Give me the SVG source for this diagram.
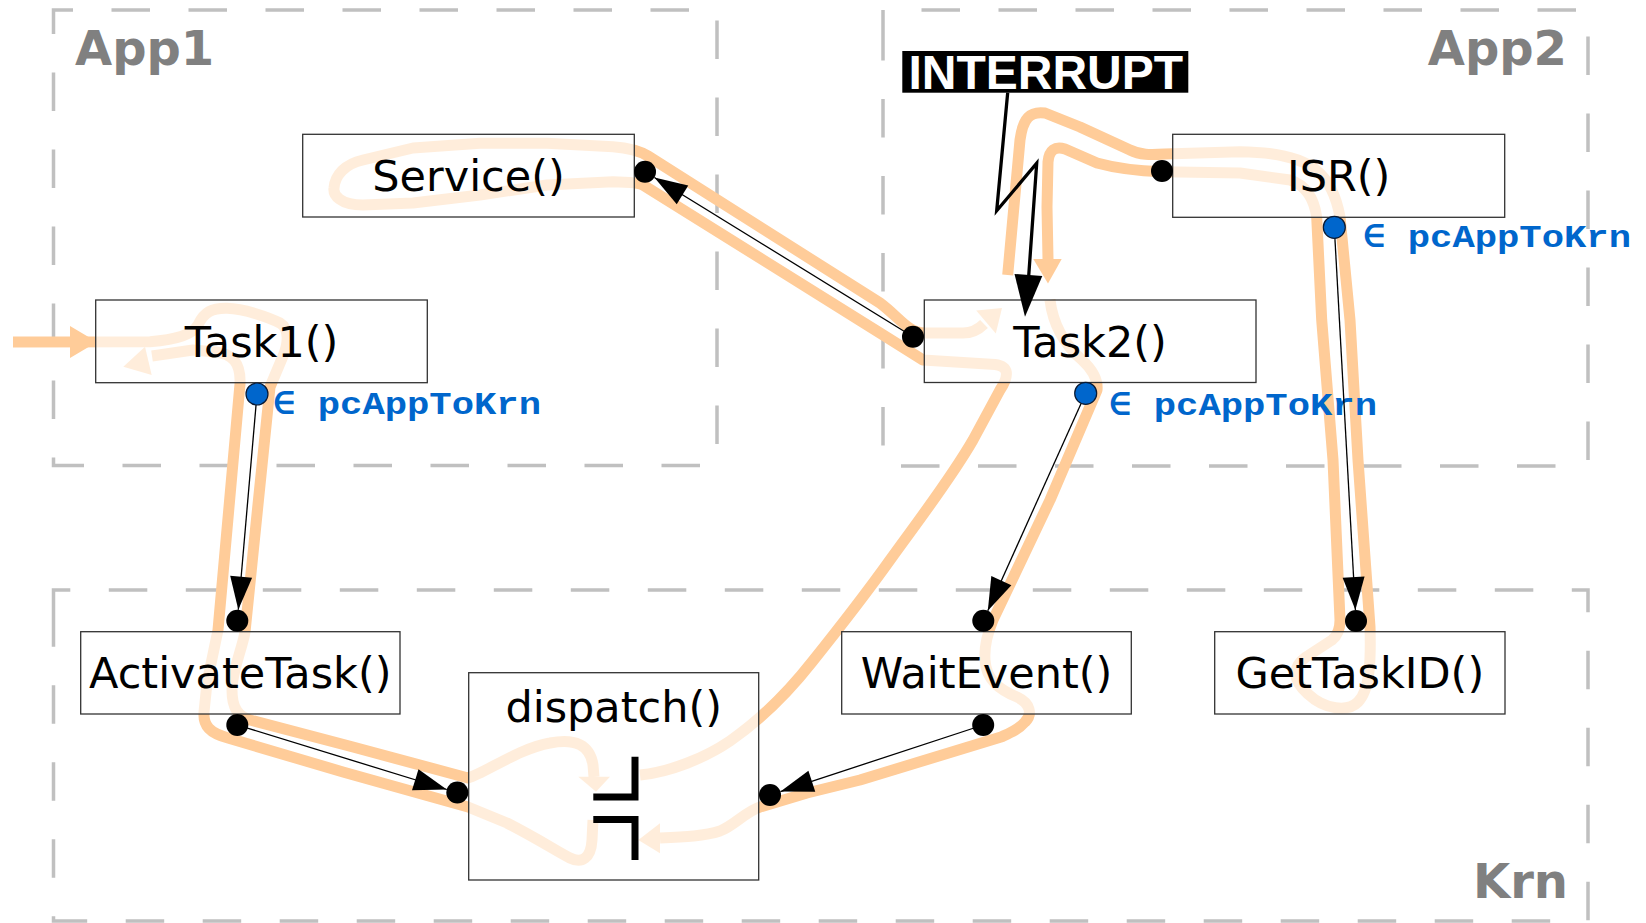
<svg xmlns="http://www.w3.org/2000/svg" width="1646" height="923" viewBox="0 0 1646 923">
<defs>
<style>
.region{fill:none;stroke:#c0c0c0;stroke-width:3.5;stroke-dasharray:38.5 38.5}
.rlabel{font-family:"DejaVu Sans",sans-serif;font-weight:bold;font-size:48px;fill:#808080}
.flow{fill:none;stroke:#ffcc99;stroke-width:11;stroke-linejoin:round;stroke-linecap:butt}
.fhead{fill:#ffcc99}
.box{fill:#ffffff;fill-opacity:0.65;stroke:#333333;stroke-width:1.3}
.lbl{font-family:"DejaVu Sans",sans-serif;font-size:43px;fill:#000000;text-anchor:middle}
.dot{fill:#000000}
.bdot{fill:#0066cc;stroke:#0a1a33;stroke-width:1.2}
.conn{fill:none;stroke:#000000;stroke-width:1.3}
.tag{font-family:"Liberation Mono","DejaVu Sans Mono",monospace;font-weight:bold;font-size:31px;fill:#0066cc}
.sym{fill:none;stroke:#000000;stroke-width:7;stroke-linejoin:miter;stroke-linecap:butt}
</style>
<marker id="ah" markerUnits="userSpaceOnUse" viewBox="-34 -12 35 24" markerWidth="35" markerHeight="24" refX="0" refY="0" orient="auto">
<path d="M0,0 L-33,-11 L-33,11 Z" fill="#000000"/>
</marker>
</defs>
<rect x="0" y="0" width="1646" height="923" fill="#ffffff"/>

<g id="regions">
<path class="region" d="M53.5,29 V10 H717 V465.5 H53.5 Z"/>
<path class="region" d="M883,48.5 V10 H1588 V466 H883 Z"/>
<path class="region" d="M53.5,611.7 V590 H1588 V921 H53.5 Z"/>
<text class="rlabel" x="75" y="65">App1</text>
<text class="rlabel" x="1567" y="65" text-anchor="end">App2</text>
<text class="rlabel" x="1568" y="898" text-anchor="end">Krn</text>
</g>

<g id="flows">
<path class="flow" d="M13,342 L150,341.7 C172,340 192,336 198,325 C204,312 212,308 227,308.3 C245,309 268,317 280,323 C290,329 288,345 283,356 L270,387 L245,632 C242,650 232,670 232,690 C232,708 238,716 250,720 L353,747 L468,778 C485,773 520,748 550,743 C575,738 590,745 593,765 L594,777"/>
<polygon class="fhead" points="70,326 97,342 70,358"/>
<polygon class="fhead" points="578.3,776.7 610,776.7 596,791.7"/>

<path class="flow" d="M593,820 L592,840 C591,858 582,864 570,858 C558,852 540,840 507,823 L468,807 L343,772 L228,738 C210,733 203,726 204,712 L207,683 L218,630 L240,384 C241,362 232,354 216,352 L193,350 L152,356"/>
<polygon class="fhead" points="145,346.7 151.7,375 123.3,366.7"/>

<path class="flow" d="M640,775 C670,772 705,758 730,741 C760,720 790,690 812,662 C840,627 870,588 890,560 C915,525 950,480 973,440 L1000,390 Q1015,367 995,364.5 L923,360 L880,333 L643,185 Q639,183 630,182.5 L613,181.7 L547,185 L480,195 L413,203 L363,205 C340,205 333,195 334,188 C335,175 345,164 363,160 L413,148 L480,143.3 L547,143.3 L613,146.7 C630,148 640,151 648,156 L880,303 C900,318 908,333 925,333 L963,333 C972,333 978,330 984,324"/>
<polygon class="fhead" points="976.2,310.6 995.8,333.4 1002,308"/>

<path class="flow" d="M1007.7,275 L1020,140 C1023,118 1030,111 1045,113 L1080,127 L1130,150 C1140,155 1150,155 1165,154 L1240,151.7 C1270,152 1300,157 1316,170 C1330,181 1337,200 1340,217 L1350,320 L1358,460 L1370,627 C1371,660 1370,690 1358,702 C1348,712 1325,710 1308,694 C1292,680 1292,667 1306,657 L1332,640 C1337,636 1340,630 1340,620 L1333,460 L1321.7,320 L1316.7,217 C1314,198 1305,185 1290,180 L1240,173 L1162,171.7 C1140,171 1115,168 1097,163 L1065,149 C1055,146 1049,150 1048,162 L1047,207 L1048,259"/>
<polygon class="fhead" points="1033.3,259 1061.7,259 1048,283.5"/>

<path class="flow" d="M1050,300 C1053,325 1065,345 1082,360 C1094,371 1098,380 1097,390 L1050,500 L993,620 C988,632 984,645 985,660 C986,680 1000,690 1017,697 C1030,703 1033,714 1025,722 C1018,730 1010,733 1001,737 L860,780 L807,793 L760,807 C745,812 735,825 720,831 C705,836 685,837 660,838"/>
<polygon class="fhead" points="660,823.3 660,853.3 638.3,840"/>
</g>

<g id="node-service">
<rect class="box" x="302.7" y="134.3" width="331.6" height="82.7"/>
<text class="lbl" x="468.5" y="191.2">Service()</text>
</g>
<g id="node-task1">
<rect class="box" x="95.7" y="300" width="331.6" height="82.7"/>
<text class="lbl" x="261.5" y="356.8">Task1()</text>
<text class="tag" x="273" y="414.3" textLength="268" lengthAdjust="spacingAndGlyphs">∈ pcAppToKrn</text>
</g>
<g id="node-task2">
<rect class="box" x="924.3" y="300" width="331.7" height="82.5"/>
<text class="lbl" x="1090" y="356.7">Task2()</text>
<text class="tag" x="1109" y="415" textLength="268" lengthAdjust="spacingAndGlyphs">∈ pcAppToKrn</text>
</g>
<g id="node-isr">
<rect class="box" x="1172.7" y="134.3" width="332" height="83"/>
<text class="lbl" x="1338.7" y="191.3">ISR()</text>
<text class="tag" x="1363" y="246.7" textLength="268" lengthAdjust="spacingAndGlyphs">∈ pcAppToKrn</text>
</g>
<g id="node-activatetask">
<rect class="box" x="80.7" y="631.7" width="319.3" height="82.3"/>
<text class="lbl" x="240.3" y="688.3">ActivateTask()</text>
</g>
<g id="node-dispatch">
<rect class="box" x="468.7" y="672.7" width="290" height="207.3"/>
<text class="lbl" x="613.7" y="721.7">dispatch()</text>
<path class="sym" d="M635,756.7 L635,797 L593.3,797"/>
<path class="sym" d="M593.3,819.5 L635,819.5 L635,860"/>
</g>
<g id="node-waitevent">
<rect class="box" x="841.7" y="631.7" width="289.6" height="82.3"/>
<text class="lbl" x="986.5" y="688.3">WaitEvent()</text>
</g>
<g id="node-gettaskid">
<rect class="box" x="1214.7" y="631.7" width="290.3" height="82.3"/>
<text class="lbl" x="1359.8" y="688.3">GetTaskID()</text>
</g>

<g id="connectors">
<path class="conn" d="M257,394 L238.3,609.7" marker-end="url(#ah)"/>
<path class="conn" d="M237.3,725 L446.8,789.5" marker-end="url(#ah)"/>
<path class="conn" d="M913,336.7 L654.4,177.5" marker-end="url(#ah)"/>
<path class="conn" d="M1085.7,393.3 L987.8,610.7" marker-end="url(#ah)"/>
<path class="conn" d="M983.2,725 L780.5,791.6" marker-end="url(#ah)"/>
<path class="conn" d="M1334.3,227.3 L1355.4,610" marker-end="url(#ah)"/>
<circle class="dot" cx="645" cy="171.7" r="11"/>
<circle class="dot" cx="913" cy="336.7" r="11"/>
<circle class="dot" cx="1162" cy="171" r="11"/>
<circle class="dot" cx="237.3" cy="620.7" r="11"/>
<circle class="dot" cx="237.3" cy="725" r="11"/>
<circle class="dot" cx="457.3" cy="792.5" r="11"/>
<circle class="dot" cx="770" cy="795" r="11"/>
<circle class="dot" cx="983.3" cy="620.7" r="11"/>
<circle class="dot" cx="983.2" cy="725" r="11"/>
<circle class="dot" cx="1356" cy="621" r="11"/>
<circle class="bdot" cx="257" cy="394" r="11"/>
<circle class="bdot" cx="1085.7" cy="393.3" r="11"/>
<circle class="bdot" cx="1334.3" cy="227.3" r="11"/>
</g>

<g id="interrupt">
<rect x="902.3" y="51" width="286" height="41.7" fill="#000000"/>
<text x="1045.8" y="89" text-anchor="middle" font-family="'Liberation Sans',Arial,sans-serif" font-weight="bold" font-size="48" fill="#ffffff">INTERRUPT</text>
<path d="M1007.7,92.7 L996.7,210.7 L1036.7,163.3 L1028.7,276" fill="none" stroke="#000000" stroke-width="3.3" stroke-linejoin="miter"/>
<polygon points="1014.5,274 1042.3,276 1025,316.7" fill="#000000"/>
</g>
</svg>
